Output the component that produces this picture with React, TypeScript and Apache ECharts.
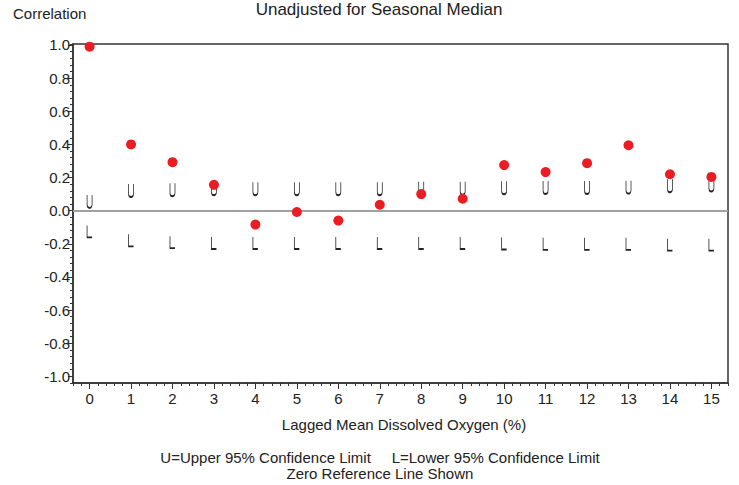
import React, { useEffect, useRef } from "react";
import * as echarts from "echarts";

const lags = [0, 1, 2, 3, 4, 5, 6, 7, 8, 9, 10, 11, 12, 13, 14, 15];
const correlation = [0.99, 0.40, 0.293, 0.156, -0.084, -0.008, -0.06, 0.036, 0.10, 0.072, 0.275, 0.233, 0.287, 0.395, 0.22, 0.204];
const upperLimit = [0.056, 0.122, 0.126, 0.132, 0.132, 0.132, 0.132, 0.132, 0.135, 0.135, 0.138, 0.14, 0.14, 0.142, 0.15, 0.155];
const lowerLimit = [-0.125, -0.179, -0.19, -0.195, -0.195, -0.195, -0.195, -0.195, -0.195, -0.195, -0.198, -0.2, -0.2, -0.2, -0.205, -0.205];
const yTickValues = [-1.0, -0.8, -0.6, -0.4, -0.2, 0.0, 0.2, 0.4, 0.6, 0.8, 1.0];
const xTickValues = lags;

const FONT = "'Liberation Sans', Arial, Helvetica, sans-serif";
const TEXT = "#222222";

const U_PATH = "path://M0,0L0,9C0,13.5 5,13.5 5,9L5,0";
const L_PATH = "path://M0,0L0,12L5,12";

export default function App() {
  const ref = useRef<HTMLDivElement>(null);
  useEffect(() => {
    if (!ref.current) return;
    const chart = echarts.init(ref.current, null, { renderer: "svg" });
    const yMin = -1.04;
    const yMax = 1.006;
    const xMin = -0.4;
    const xMax = 15.4;
    chart.setOption({
      animation: false,
      backgroundColor: "#ffffff",
      textStyle: { fontFamily: FONT },
      grid: {
        left: 73,
        right: 11,
        top: 44,
        bottom: 102,
        show: true,
        borderColor: "#333",
        borderWidth: 1.5,
        backgroundColor: "transparent",
      },
      xAxis: [
        {
          type: "value",
          min: xMin,
          max: xMax,
          interval: 0.2,
          position: "bottom",
          axisLine: { show: true, onZero: false, lineStyle: { color: "#333", width: 1.5 } },
          axisTick: { show: true, length: 3, lineStyle: { color: "#333" } },
          axisLabel: { show: false },
          splitLine: { show: false },
        },
        {
          type: "value",
          min: xMin,
          max: xMax,
          position: "bottom",
          axisLine: { show: false, onZero: false },
          axisTick: { show: true, length: 6, customValues: xTickValues, lineStyle: { color: "#333" } },
          axisLabel: {
            show: true,
            customValues: xTickValues,
            fontSize: 15,
            color: TEXT,
            fontFamily: FONT,
            margin: 8,
          },
          splitLine: { show: false },
        },
      ],
      yAxis: [
        {
          type: "value",
          min: yMin,
          max: yMax,
          interval: 0.04,
          position: "left",
          axisLine: { show: true, onZero: false, lineStyle: { color: "#333", width: 1.5 } },
          axisTick: { show: true, length: 3, lineStyle: { color: "#333" } },
          axisLabel: { show: false },
          splitLine: { show: false },
        },
        {
          type: "value",
          min: yMin,
          max: yMax,
          position: "left",
          axisLine: { show: false, onZero: false },
          axisTick: { show: true, length: 5, customValues: yTickValues, lineStyle: { color: "#333" } },
          axisLabel: {
            show: true,
            customValues: yTickValues,
            fontSize: 15,
            color: TEXT,
            fontFamily: FONT,
            margin: 3,
            formatter: (v: number) => v.toFixed(1),
          },
          splitLine: { show: false },
        },
      ],
      series: [
        {
          name: "Upper",
          type: "scatter",
          xAxisIndex: 0,
          yAxisIndex: 0,
          data: lags.map((l, i) => [l, upperLimit[i]]),
          symbol: U_PATH,
          symbolSize: [5, 13],
          itemStyle: { color: "transparent", borderColor: "#222", borderWidth: 1.2, opacity: 1 },
          z: 2,
          markLine: {
            silent: true,
            symbol: "none",
            label: { show: false },
            lineStyle: { color: "#a0a0a0", width: 2, type: "solid" },
            data: [{ yAxis: 0 }],
          },
        },
        {
          name: "Lower",
          type: "scatter",
          xAxisIndex: 0,
          yAxisIndex: 0,
          data: lags.map((l, i) => [l, lowerLimit[i]]),
          symbol: L_PATH,
          symbolSize: [5, 12],
          itemStyle: { color: "transparent", borderColor: "#222", borderWidth: 1.2, opacity: 1 },
          z: 2,
        },
        {
          name: "Correlation",
          type: "scatter",
          xAxisIndex: 0,
          yAxisIndex: 0,
          data: lags.map((l, i) => [l, correlation[i]]),
          symbol: "circle",
          symbolSize: 10,
          itemStyle: { color: "#ec1c24", opacity: 1 },
          z: 5,
        },
      ],
      graphic: [
        {
          type: "text",
          left: 13,
          top: 6,
          style: { text: "Correlation", font: `15px ${FONT}`, fill: TEXT },
        },
        {
          type: "text",
          x: 379,
          y: 1,
          style: { text: "Unadjusted for Seasonal Median", font: `17px ${FONT}`, fill: TEXT, textAlign: "center" },
        },
        {
          type: "text",
          x: 404,
          y: 417,
          style: { text: "Lagged Mean Dissolved Oxygen (%)", font: `15px ${FONT}`, fill: TEXT, textAlign: "center" },
        },
        {
          type: "text",
          x: 380,
          y: 450,
          style: {
            text: "U=Upper 95% Confidence Limit     L=Lower 95% Confidence Limit",
            font: `15px ${FONT}`,
            fill: TEXT,
            textAlign: "center",
          },
        },
        {
          type: "text",
          x: 380,
          y: 466,
          style: { text: "Zero Reference Line Shown", font: `15px ${FONT}`, fill: TEXT, textAlign: "center" },
        },
      ],
    });
    return () => chart.dispose();
  }, []);
  return <div ref={ref} style={{ width: 739, height: 485, position: "absolute", left: 0, top: 0 }} />;
}
